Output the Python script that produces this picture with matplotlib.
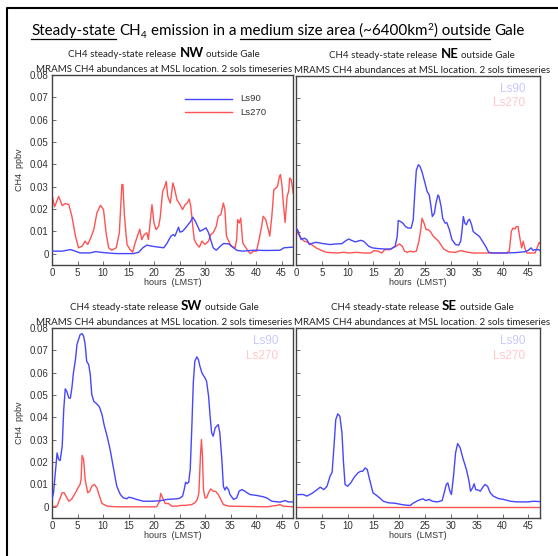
import matplotlib
matplotlib.use("Agg")
import matplotlib.pyplot as plt
from matplotlib.lines import Line2D

# ---------------- data (hours LMST, CH4 ppbv) ----------------
nw_ls90_h = [0, 2.0, 3.6, 4.2, 5.5, 7.5, 8.5, 9.5, 10.8, 12.7, 16.0, 17.0, 17.8, 18.6, 19.6, 20.5, 21.9,
             22.5, 23.3, 23.8, 24.1, 24.8, 25.1, 25.6, 26.3, 26.7, 27.2, 27.6, 28.1, 28.7, 29.0, 29.7,
             30.2, 30.7, 31.1, 31.6, 32.2, 33.0, 33.6, 34.6, 35.4, 36.3, 37.5, 39.5, 42.1, 44.7, 45.5, 47.3]
nw_ls90_v = [0.0012, 0.0012, 0.0019, 0.0015, 0.0004, 0.0004, 0.0010, 0.0007, 0.0004, 0.0001, 0.0001, 0.0007,
             0.0027, 0.0039, 0.0034, 0.0031, 0.0027, 0.0045, 0.0079, 0.0086, 0.0079, 0.0119, 0.0097, 0.0101,
             0.0119, 0.0131, 0.0146, 0.0164, 0.0146, 0.0116, 0.0101, 0.0109, 0.0116, 0.0094, 0.0064, 0.0027,
             0.0016, 0.0034, 0.0046, 0.0045, 0.0030, 0.0015, 0.0012, 0.0016, 0.0015, 0.0016, 0.0027, 0.0030]
nw_ls270_h = [0, 0.5, 1.3, 2.0, 2.6, 3.3, 3.9, 4.6, 5.2, 5.9, 6.5, 7.0, 7.6, 8.2, 8.8, 9.5, 10.1, 10.6, 11.1,
              11.7, 12.6, 13.2, 13.7, 13.9, 14.2, 14.7, 15.3, 15.8, 16.3, 17.2, 17.6, 18.1, 18.6, 18.9, 19.6,
              20.0, 20.4, 20.9, 21.2, 21.7, 22.0, 22.4, 22.7, 23.2, 23.7, 24.0, 24.5, 25.1, 25.6, 26.1, 26.5,
              26.9, 27.2, 27.6, 27.9, 28.4, 28.9, 29.4, 30.0, 30.7, 31.1, 31.6, 32.2, 32.6, 33.1, 33.6, 33.9,
              34.2, 34.8, 35.2, 35.9, 36.2, 36.4, 36.7, 37.0, 37.4, 37.8, 38.5, 38.9, 39.5, 40.1, 40.6, 41.1,
              41.4, 41.9, 42.4, 42.7, 43.1, 43.5, 43.9, 44.2, 44.6, 44.8, 45.1, 45.3, 45.7, 46.1, 46.4, 46.6,
              46.9, 47.3]
nw_ls270_v = [0.0265, 0.0210, 0.0257, 0.0216, 0.0225, 0.0220, 0.0168, 0.0079, 0.0027, 0.0034, 0.0057, 0.0042,
              0.0071, 0.0109, 0.0183, 0.0217, 0.0198, 0.0094, 0.0027, 0.0016, 0.0027, 0.0094, 0.0310, 0.0310,
              0.0170, 0.0042, 0.0019, 0.0007, 0.0049, 0.0110, 0.0064, 0.0086, 0.0094, 0.0064, 0.0220, 0.0138,
              0.0108, 0.0123, 0.0160, 0.0280, 0.0294, 0.0324, 0.0257, 0.0227, 0.0317, 0.0294, 0.0242, 0.0220,
              0.0198, 0.0220, 0.0227, 0.0245, 0.0213, 0.0123, 0.0064, 0.0042, 0.0030, 0.0057, 0.0042, 0.0057,
              0.0086, 0.0094, 0.0123, 0.0168, 0.0175, 0.0227, 0.0198, 0.0079, 0.0049, 0.0034, 0.0027, 0.0064,
              0.0153, 0.0138, 0.0160, 0.0049, 0.0034, 0.0012, 0.0001, 0.0012, 0.0012, 0.0064, 0.0123, 0.0168,
              0.0153, 0.0109, 0.0079, 0.0168, 0.0287, 0.0294, 0.0302, 0.0346, 0.0354, 0.0302, 0.0242, 0.0140,
              0.0257, 0.0280, 0.0339, 0.0332, 0.0272]

ne_ls90_h = [0, 0.3, 1.0, 1.6, 2.1, 2.6, 3.3, 3.9, 5.3, 6.6, 7.9, 8.9, 9.5, 10.2, 10.8, 11.5, 12.5, 13.1, 14.1,
             14.8, 15.8, 17.1, 18.4, 19.2, 19.6, 19.8, 20.2, 20.7, 21.2, 21.7, 22.3, 22.7, 23.0, 23.3, 23.7,
             24.0, 24.4, 25.0, 25.4, 25.8, 26.1, 26.4, 26.8, 27.1, 27.5, 27.7, 28.1, 28.4, 28.9, 29.2, 29.7,
             30.2, 30.9, 31.5, 31.9, 32.2, 32.4, 32.7, 33.0, 33.3, 33.6, 34.0, 34.3, 34.8, 35.5, 36.1, 36.8,
             37.3, 38.1, 40.7, 42.7, 44.4, 45.0, 45.5, 45.9, 46.3, 47.0, 47.8]
ne_ls90_v = [0.0116, 0.0109, 0.0064, 0.0071, 0.0064, 0.0042, 0.0049, 0.0052, 0.0046, 0.0042, 0.0045, 0.0046,
             0.0057, 0.0067, 0.0060, 0.0054, 0.0061, 0.0057, 0.0034, 0.0027, 0.0024, 0.0022, 0.0022, 0.0034,
             0.0079, 0.0150, 0.0146, 0.0138, 0.0123, 0.0116, 0.0116, 0.0153, 0.0272, 0.0376, 0.0401, 0.0394,
             0.0369, 0.0317, 0.0280, 0.0265, 0.0220, 0.0168, 0.0183, 0.0228, 0.0265, 0.0257, 0.0213, 0.0160,
             0.0138, 0.0141, 0.0109, 0.0064, 0.0042, 0.0039, 0.0057, 0.0116, 0.0168, 0.0138, 0.0131, 0.0149,
             0.0156, 0.0131, 0.0101, 0.0091, 0.0079, 0.0057, 0.0031, 0.0007, 0.0004, 0.0004, 0.0006, 0.0010,
             0.0016, 0.0027, 0.0016, 0.0019, 0.0019, 0.0004]
ne_ls270_h = [0, 0.3, 1.0, 1.6, 2.3, 3.0, 3.9, 4.9, 5.9, 7.9, 9.2, 10.2, 11.8, 13.1, 14.5, 15.1, 15.9, 16.6,
              17.2, 18.1, 18.7, 19.4, 20.0, 20.6, 21.0, 21.6, 22.0, 22.7, 23.3, 23.8, 24.2, 24.4, 24.8, 25.2,
              25.6, 26.0, 26.6, 27.6, 28.6, 29.6, 30.9, 31.9, 32.9, 34.2, 36.8, 40.7, 41.3, 41.7, 42.0, 42.4,
              42.7, 43.0, 43.4, 43.7, 44.0, 44.3, 44.7, 46.3, 46.8, 47.1, 47.6]
ne_ls270_v = [0.0116, 0.0094, 0.0071, 0.0057, 0.0052, 0.0042, 0.0027, 0.0016, 0.0007, 0.0004, 0.0007, 0.0004,
              0.0007, 0.0004, 0.0004, 0.0015, 0.0012, 0.0004, 0.0019, 0.0019, 0.0027, 0.0034, 0.0045, 0.0034,
              0.0012, 0.0007, 0.0012, 0.0009, 0.0012, 0.0057, 0.0116, 0.0160, 0.0138, 0.0109, 0.0109, 0.0101,
              0.0079, 0.0057, 0.0022, 0.0009, 0.0007, 0.0015, 0.0009, 0.0004, 0.0004, 0.0004, 0.0012, 0.0101,
              0.0116, 0.0112, 0.0123, 0.0123, 0.0064, 0.0027, 0.0057, 0.0027, 0.0004, 0.0004, 0.0034, 0.0052,
              0.0034]

sw_ls90_h = [0, 0.3, 0.65, 1.0, 1.3, 1.6, 2.0, 2.3, 2.6, 2.9, 3.3, 3.6, 3.9, 4.2, 4.6, 4.9, 5.2, 5.5, 5.9, 6.2,
             6.5, 6.8, 7.2, 7.5, 7.8, 8.2, 8.8, 9.3, 9.8, 10.2, 10.8, 11.4, 12.1, 12.7, 13.4, 14.0, 14.7, 15.0,
             15.7, 16.6, 17.9, 19.6, 21.2, 22.5, 24.5, 25.1, 25.6, 25.9, 26.2, 26.5, 26.8, 27.1, 27.4, 27.7,
             28.0, 28.4, 28.7, 29.0, 29.4, 29.7, 30.0, 30.3, 30.7, 31.0, 31.3, 31.6, 32.0, 32.3, 32.6, 32.9,
             33.3, 33.6, 33.9, 34.2, 34.6, 34.9, 35.6, 36.2, 36.7, 37.2, 37.8, 38.8, 40.1, 41.4, 42.1, 43.1,
             44.7, 45.7, 46.3, 47.3]
sw_ls90_v = [0.0033, 0.0063, 0.0152, 0.0241, 0.0212, 0.0207, 0.0271, 0.0435, 0.0528, 0.0517, 0.0487, 0.0486,
             0.0532, 0.0599, 0.0659, 0.0726, 0.0748, 0.0770, 0.0775, 0.0763, 0.0726, 0.0651, 0.0636, 0.0592,
             0.0502, 0.0472, 0.0460, 0.0447, 0.0413, 0.0368, 0.0316, 0.0256, 0.0167, 0.0092, 0.0055, 0.0040,
             0.0036, 0.0043, 0.0040, 0.0033, 0.0025, 0.0025, 0.0027, 0.0033, 0.0036, 0.0039, 0.0048, 0.0075,
             0.0110, 0.0104, 0.0110, 0.0167, 0.0346, 0.0554, 0.0651, 0.0671, 0.0659, 0.0629, 0.0599, 0.0587,
             0.0577, 0.0562, 0.0495, 0.0405, 0.0331, 0.0316, 0.0353, 0.0361, 0.0368, 0.0331, 0.0212, 0.0092,
             0.0075, 0.0089, 0.0077, 0.0055, 0.0033, 0.0040, 0.0070, 0.0077, 0.0070, 0.0055, 0.0051, 0.0045,
             0.0040, 0.0025, 0.0021, 0.0028, 0.0022, 0.0022]
sw_ls270_h = [0, 1.0, 1.5, 2.0, 2.4, 2.8, 3.3, 3.9, 4.6, 5.2, 5.5, 5.7, 5.9, 6.2, 6.5, 7.0, 7.4, 7.8, 8.3, 8.8,
              9.3, 9.8, 10.8, 12.7, 20.5, 21.1, 21.3, 21.7, 22.2, 22.8, 23.5, 24.5, 25.1, 26.4, 27.4, 28.0,
              28.5, 28.8, 29.1, 29.3, 29.5, 29.7, 30.0, 30.3, 30.7, 31.1, 31.6, 32.1, 32.6, 33.1, 33.6, 34.6,
              42.1, 44.0, 44.7, 45.3, 47.3]
sw_ls270_v = [0.0, 0.0003, 0.0033, 0.0063, 0.0063, 0.0045, 0.0025, 0.0036, 0.0063, 0.0089, 0.0100, 0.0122,
              0.0230, 0.0212, 0.0122, 0.0063, 0.0070, 0.0092, 0.0100, 0.0085, 0.0048, 0.0015, 0.0003, 0.0,
              0.0, 0.0025, 0.0060, 0.0040, 0.0015, 0.0015, 0.0003, 0.0003, 0.0006, 0.0007, 0.0010, 0.0018,
              0.0033, 0.0063, 0.0227, 0.0301, 0.0227, 0.0077, 0.0040, 0.0040, 0.0063, 0.0080, 0.0070, 0.0069,
              0.0055, 0.0033, 0.0010, 0.0003, 0.0, 0.0006, 0.0010, 0.0003, 0.0]

se_ls90_h = [0, 0.8, 1.4, 2.1, 3.1, 4.1, 4.7, 5.4, 6.0, 6.6, 7.0, 7.4, 7.7, 8.1, 8.5, 8.9, 9.2, 9.5, 10.0, 10.6,
             11.3, 12.0, 12.5, 12.9, 13.4, 13.8, 14.1, 14.5, 14.9, 15.6, 16.2, 16.9, 17.9, 19.2, 20.5, 21.5,
             22.1, 22.8, 23.8, 24.6, 25.1, 25.8, 26.4, 27.4, 28.3, 28.7, 29.1, 29.4, 29.8, 30.1, 30.5, 30.9,
             31.3, 31.8, 32.3, 33.0, 33.5, 33.8, 34.2, 34.5, 34.8, 35.3, 35.7, 36.1, 36.6, 37.1, 37.6, 38.2,
             39.2, 40.2, 41.5, 42.8, 44.8, 46.1, 48.0]
se_ls90_v = [0.0054, 0.0055, 0.0055, 0.0048, 0.0060, 0.0077, 0.0088, 0.0077, 0.0092, 0.0137, 0.0155, 0.0286,
             0.0390, 0.0416, 0.0405, 0.0331, 0.0197, 0.0100, 0.0092, 0.0107, 0.0133, 0.0152, 0.0159, 0.0159,
             0.0174, 0.0167, 0.0137, 0.0100, 0.0063, 0.0051, 0.0040, 0.0025, 0.0018, 0.0016, 0.0010, 0.0007,
             0.0006, 0.0018, 0.0030, 0.0036, 0.0028, 0.0033, 0.0025, 0.0022, 0.0028, 0.0063, 0.0100, 0.0107,
             0.0070, 0.0055, 0.0137, 0.0241, 0.0283, 0.0264, 0.0219, 0.0167, 0.0115, 0.0070, 0.0085, 0.0103,
             0.0077, 0.0075, 0.0070, 0.0085, 0.0100, 0.0092, 0.0063, 0.0048, 0.0037, 0.0033, 0.0025, 0.0022,
             0.0022, 0.0025, 0.0022]
se_ls270_h = [0, 12.0, 24.0, 36.0, 48.0]
se_ls270_v = [0.0, 0.0, 0.0, 0.0, 0.0]

panel_names = ["NW", "NE", "SW", "SE"]
series_labels = ["Ls90", "Ls270"]
yticks = [0, 0.01, 0.02, 0.03, 0.04, 0.05, 0.06, 0.07, 0.08]
ytick_labels = ["0", "0.01", "0.02", "0.03", "0.04", "0.05", "0.06", "0.07", "0.08"]
xticks = [0, 5, 10, 15, 20, 25, 30, 35, 40, 45]
xtick_labels = [str(t) for t in xticks]

panel_data = {
    "NW": ((nw_ls90_h, nw_ls90_v), (nw_ls270_h, nw_ls270_v)),
    "NE": ((ne_ls90_h, ne_ls90_v), (ne_ls270_h, ne_ls270_v)),
    "SW": ((sw_ls90_h, sw_ls90_v), (sw_ls270_h, sw_ls270_v)),
    "SE": ((se_ls90_h, se_ls90_v), (se_ls270_h, se_ls270_v)),
}

# ---------------- figure ----------------
W, H = 558, 556
fig = plt.figure(figsize=(W / 100, H / 100), dpi=100)
fig.patch.set_facecolor("white")
plt.rcParams["mathtext.default"] = "regular"
renderer = fig.canvas.get_renderer()

BLUE = "#4646ff"
RED = "#ff5252"
TXT = "#333333"
TICKFONT = "Liberation Sans"
TITLEFONT = "Lato"

def px_to_fig(x, y):
    return x / W, 1 - y / H

# axes rectangles in pixels: (left, top, right, bottom)
rects = {
    "NW": (52, 75, 293, 265),
    "NE": (296, 76, 540, 265),
    "SW": (52, 328, 293, 518),
    "SE": (296, 328, 540, 518),
}
# subtitle centres (pixels)
sub_cx = {"NW": 164, "NE": 422, "SW": 164, "SE": 422}

def text_width(s, **kw):
    t = fig.text(0, 0, s, **kw)
    w = t.get_window_extent(renderer).width
    t.remove()
    return w

def draw_run(pieces, cx, ybase):
    """pieces: list of (string, kwargs, dy_px, space_before, underline)"""
    widths = []
    gaps = []
    for s, kw, dy, sp, ul in pieces:
        widths.append(text_width(s, **kw))
        gaps.append((text_width("a a", **kw) - text_width("aa", **kw)) if sp else 0.0)
    total = sum(widths) + sum(gaps)
    x = cx - total / 2
    spans = []
    for (s, kw, dy, sp, ul), w, g in zip(pieces, widths, gaps):
        x += g
        fx, fy = px_to_fig(x, ybase + dy)
        fig.text(fx, fy, s, ha="left", va="baseline", **kw)
        if ul:
            start = x - g if (sp and spans and abs(spans[-1][1] - (x - g)) < 0.5) else x
            spans.append((start, x + w))
        x += w
    return spans

# ---------- main title ----------
tk = dict(fontsize=10.9, family=TITLEFONT, color="black")
tks = dict(fontsize=7.2, family=TITLEFONT, color="black")
title_pieces = [
    ("Steady-state", tk, 0, False, True),
    ("CH", tk, 0, True, False),
    ("4", tks, 3, False, False),
    ("emission in a", tk, 0, True, False),
    ("medium size area (~6400km", tk, 0, True, True),
    ("2", tks, -5.5, False, True),
    (") outside", tk, 0, False, True),
    ("Gale", tk, 0, True, False),
]
spans = draw_run(title_pieces, 278, 35)
merged = []
for a, b in spans:
    if merged and a - merged[-1][1] < 1.0:
        merged[-1] = (merged[-1][0], b)
    else:
        merged.append((a, b))
for a, b in merged:
    x0, y0 = px_to_fig(a, 38.5)
    x1, _ = px_to_fig(b, 38.5)
    fig.add_artist(Line2D([x0, x1], [y0, y0], transform=fig.transFigure, color="black", lw=0.9))

# ---------- frame ----------
fx0, fy0 = px_to_fig(7, 8)
fx1, fy1 = px_to_fig(560, 560)
fig.add_artist(Line2D([fx0, fx0, 1.01], [fy1, fy0, fy0], transform=fig.transFigure, color="black", lw=1.5))

# ---------- panels ----------
for name in panel_names:
    l, t, r, b = rects[name]
    ax = fig.add_axes([l / W, 1 - b / H, (r - l) / W, (b - t) / H])
    (h90, v90), (h270, v270) = panel_data[name]
    ax.plot(h90, v90, color=BLUE, lw=1.0, label=series_labels[0], zorder=3)
    ax.plot(h270, v270, color=RED, lw=1.0, label=series_labels[1], zorder=2)
    ax.set_xlim(0, 47.25)
    ax.set_ylim(-0.005, 0.08)
    ax.set_xticks(xticks)
    ax.set_xticklabels(xtick_labels, family=TICKFONT, fontsize=7, color=TXT)
    ax.set_yticks(yticks)
    left = name in ("NW", "SW")
    if left:
        ax.set_yticklabels(ytick_labels, family=TICKFONT, fontsize=7, color=TXT)
        ax.set_ylabel("CH4  ppbv", family=TICKFONT, fontsize=6.5, color=TXT, labelpad=4)
    else:
        ax.set_yticklabels([])
    ax.tick_params(direction="in", length=3, width=0.6, color="#555555", pad=2.5)
    ax.set_xlabel("hours  (LMST)", family=TICKFONT, fontsize=6.5, color=TXT, labelpad=-0.5)
    for sp in ax.spines.values():
        sp.set_color("#444444")
        sp.set_linewidth(1.0)

    # legend
    if name == "NW":
        ax.plot([0.55, 0.745], [0.875, 0.875], transform=ax.transAxes, color=BLUE, lw=1.0)
        ax.plot([0.55, 0.745], [0.805, 0.805], transform=ax.transAxes, color=RED, lw=1.0)
        ax.text(0.78, 0.875, series_labels[0], transform=ax.transAxes, va="center", ha="left",
                family=TICKFONT, fontsize=6.8, color=TXT)
        ax.text(0.78, 0.805, series_labels[1], transform=ax.transAxes, va="center", ha="left",
                family=TICKFONT, fontsize=6.8, color=TXT)
    else:
        ax.text(0.94, 0.93, series_labels[0], transform=ax.transAxes, va="center", ha="right",
                family=TICKFONT, fontsize=8.5, color="#c8c8ff")
        ax.text(0.94, 0.855, series_labels[1], transform=ax.transAxes, va="center", ha="right",
                family=TICKFONT, fontsize=8.5, color="#ffc8c8")

    # subtitles
    cx = sub_cx[name]
    sk = dict(fontsize=7, family=TITLEFONT, color="#222222")
    bk = dict(fontsize=9.5, family=TITLEFONT, color="black", weight="bold")
    draw_run([("CH4 steady-state release", sk, 0, False, False),
              (name, bk, 0, True, False),
              ("outside Gale", sk, 0, True, False)], cx, t - 18)
    draw_run([("MRAMS CH4 abundances at MSL location. 2 sols timeseries", sk, 0, False, False)], cx, t - 3)

fig.savefig("out.png", dpi=100, facecolor="white")
